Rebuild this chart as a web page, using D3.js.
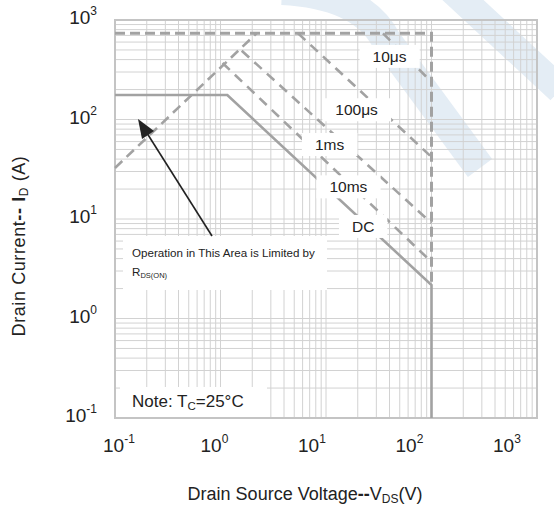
<!DOCTYPE html>
<html>
<head>
<meta charset="utf-8">
<script src="https://cdn.jsdelivr.net/npm/d3@7.9.0/dist/d3.min.js"></script>
<style>
  body { margin: 0; background: #fff; }
  svg { display: block; font-family: "Liberation Sans", Arial, sans-serif; }
</style>
</head>
<body>
<svg id="chart" width="554" height="509"></svg>
<script>
// axis decades (tick labels are 10^exp)
const tickExps = [-1, 0, 1, 2, 3];

// boundary curves, [V_DS, I_D]
const rdsLimit = [[0.1, 32.6], [2.2, 735]];
const pulseEnvelope = [[0.1, 735], [100, 735], [100, 2.17]];
const dcCurve = [[0.1, 176], [1.16, 176], [100, 2.17], [100, 0.1]];
const pulseLines = [
  { name: '10\u03bcs', pts: [[34.7, 735], [100, 238]] },
  { name: '100\u03bcs', pts: [[5.43, 735], [100, 42]] },
  { name: '1ms', pts: [[1.59, 491], [100, 9.1]] },
  { name: '10ms', pts: [[1.045, 370], [100, 3.7]] }
];

// curve labels: text and where it sits (V, I)
const curveLabels = [
  { text: '10\u03bcs', v: 40, i: 430 },
  { text: '100\u03bcs', v: 19.5, i: 125 },
  { text: '1ms', v: 10.8, i: 56 },
  { text: '10ms', v: 16.3, i: 21 },
  { text: 'DC', v: 22.5, i: 8.4 }
];

const svg = d3.select('#chart');
const x = d3.scaleLog().domain([0.1, 1000]).range([115, 537]);
const y = d3.scaleLog().domain([0.1, 1000]).range([418, 20]);
// tick labels in the scan sit slightly off the grid
const xLabel = d3.scaleLog().domain([0.1, 1000]).range([103, 493]);

// faint logo watermark behind everything
const wm = svg.append('g').attr('fill', 'none').attr('stroke', '#e4edf5');
wm.append('path').attr('d', 'M282,-10 Q362,-6 386,40 L480,168').attr('stroke-width', 30);
wm.append('path').attr('d', 'M450,-12 L560,90').attr('stroke-width', 28);

// grid
const grid = svg.append('g').attr('stroke', '#d2d2d2').attr('stroke-width', 1);
x.ticks().forEach(t => {
  grid.append('line').attr('x1', x(t)).attr('x2', x(t)).attr('y1', 20).attr('y2', 418);
});
y.ticks().forEach(t => {
  grid.append('line').attr('x1', 115).attr('x2', 537).attr('y1', y(t)).attr('y2', y(t));
});
svg.append('rect')
  .attr('x', 115).attr('y', 20).attr('width', 422).attr('height', 398)
  .attr('fill', 'none').attr('stroke', '#c4c4c4').attr('stroke-width', 2);

// curves
const line = d3.line().x(d => x(d[0])).y(d => y(d[1]));
const curves = svg.append('g').attr('fill', 'none').attr('stroke', '#a2a2a2');
curves.append('path').attr('d', line(rdsLimit))
  .attr('stroke-width', 2.6).attr('stroke-dasharray', '10,6');
curves.append('path').attr('d', line(pulseEnvelope))
  .attr('stroke-width', 3).attr('stroke-dasharray', '10,5');
pulseLines.forEach(p => {
  curves.append('path').attr('d', line(p.pts))
    .attr('stroke-width', 2.6).attr('stroke-dasharray', '10,7');
});
curves.append('path').attr('d', line(dcCurve)).attr('stroke-width', 2.6);

// curve labels on white patches
curveLabels.forEach(l => {
  const g = svg.append('g').attr('transform', `translate(${x(l.v)},${y(l.i)})`);
  const t = g.append('text').attr('text-anchor', 'middle').attr('dy', '0.35em')
    .attr('font-size', 15.5).attr('fill', '#222').text(l.text);
  const bb = t.node().getBBox();
  g.insert('rect', 'text')
    .attr('x', bb.x - 13).attr('y', bb.y - 3)
    .attr('width', bb.width + 26).attr('height', bb.height + 6)
    .attr('fill', '#fff');
});

// R_DS(on) annotation
svg.append('rect').attr('x', 123).attr('y', 236).attr('width', 204).attr('height', 54).attr('fill', '#fff');
svg.append('text').attr('x', 132).attr('y', 257).attr('font-size', 11.6).attr('fill', '#222')
  .text('Operation in This Area is Limited by');
const rds = svg.append('text').attr('x', 132).attr('y', 276).attr('font-size', 11.6).attr('fill', '#222');
rds.append('tspan').text('R');
rds.append('tspan').attr('font-size', 7.5).attr('dy', 2).text('DS(ON)');

svg.append('line')
  .attr('x1', 212).attr('y1', 236).attr('x2', 145).attr('y2', 130)
  .attr('stroke', '#222').attr('stroke-width', 1.6);
svg.append('path')
  .attr('d', 'M138,119 L154,131 L142,139 Z')
  .attr('fill', '#222');

// note box
svg.append('rect').attr('x', 120).attr('y', 387).attr('width', 147).attr('height', 30).attr('fill', '#fff');
const note = svg.append('text').attr('x', 132).attr('y', 407).attr('font-size', 17).attr('fill', '#222');
note.append('tspan').text('Note: T');
note.append('tspan').attr('font-size', 11.5).attr('dy', 3).text('C');
note.append('tspan').attr('dy', -3).text('=25\u00b0C');

// tick labels
tickExps.forEach(e => {
  const v = Math.pow(10, e);
  const tx = svg.append('text').attr('x', xLabel(v)).attr('y', 452)
    .attr('font-size', 19).attr('fill', '#222');
  tx.append('tspan').text('10');
  tx.append('tspan').attr('font-size', 12).attr('dy', -9).text(e);

  const ty = svg.append('text').attr('x', 97).attr('y', y(v) + 4)
    .attr('text-anchor', 'end').attr('font-size', 19).attr('fill', '#222');
  ty.append('tspan').text('10');
  ty.append('tspan').attr('font-size', 12).attr('dy', -9).text(e);
});

// axis titles
const xt = svg.append('text').attr('x', 305).attr('y', 500)
  .attr('text-anchor', 'middle').attr('font-size', 18).attr('fill', '#222');
xt.append('tspan').text('Drain Source Voltage');
xt.append('tspan').attr('font-weight', 'bold').text('--');
xt.append('tspan').text('V');
xt.append('tspan').attr('font-size', 12).attr('dy', 3).text('DS');
xt.append('tspan').attr('dy', -3).text('(V)');

const yt = svg.append('text').attr('transform', 'translate(25,246) rotate(-90)')
  .attr('text-anchor', 'middle').attr('font-size', 18).attr('letter-spacing', 0.6).attr('fill', '#222');
yt.append('tspan').text('Drain Current');
yt.append('tspan').attr('font-weight', 'bold').text('-- I');
yt.append('tspan').attr('font-size', 12).attr('dy', 3).text('D');
yt.append('tspan').attr('dy', -3).text(' (A)');
</script>
</body>
</html>
